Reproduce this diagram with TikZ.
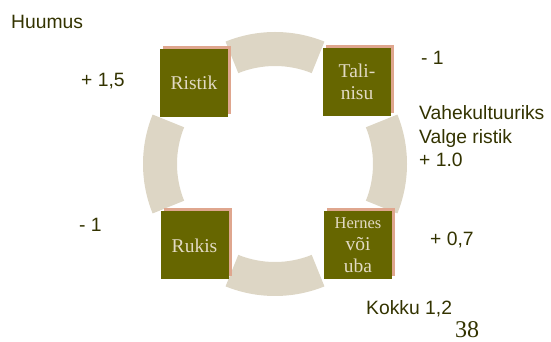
\documentclass[tikz,border=0pt]{standalone}
\usepackage{fontspec}
\setmainfont{Liberation Serif}
\setsansfont{Liberation Sans}
\usetikzlibrary{shadows,calc}
\definecolor{ringc}{HTML}{DDD6C5}
\definecolor{olivec}{HTML}{666600}
\definecolor{shadc}{HTML}{DFA68E}
\definecolor{boxtext}{HTML}{E2DAC4}
\definecolor{labc}{HTML}{333300}
\tikzset{
  ringseg/.style={fill=ringc, draw=none},
  cropbox/.style={fill=olivec, draw=none, minimum width=68pt, minimum height=68pt,
    inner sep=0pt, align=center, text=boxtext,
    general shadow={fill=shadc, shadow xshift=3pt, shadow yshift=3pt}},
  lab/.style={anchor=base west, inner sep=0pt, text=labc, font=\sffamily\fontsize{19.3}{23.5}\selectfont, align=left},
}
\begin{document}
\begin{tikzpicture}
\useasboundingbox (0pt,0pt) rectangle (551pt,342pt);
\coordinate (C) at (275pt,178pt);
\foreach \a in {0,90,180,270}{
  \fill[ringseg] ($(C)+(\a-22:132pt)$) arc[start angle=\a-22, end angle=\a+22, radius=132pt]
    -- ($(C)+(\a+22:98pt)$) arc[start angle=\a+22, end angle=\a-22, radius=98pt] -- cycle;
}
\node[cropbox, font=\fontsize{19.5}{22}\selectfont] (ristik) at (194pt,259pt) {Ristik};
\node[cropbox, font=\fontsize{19.5}{22}\selectfont] (tali) at (357pt,260pt) {Tali-\\nisu};
\node[cropbox, font=\fontsize{19.5}{22}\selectfont] (rukis) at (194.5pt,96.5pt) {Rukis};
\node[cropbox, font=\fontsize{16.5}{22}\selectfont] (hernes) at (358pt,97pt) {Hernes\\\fontsize{19.5}{22}\selectfont või\\\fontsize{19.5}{22}\selectfont uba};

\node[lab] (huumus) at (11pt,313pt) {Huumus};
\node[lab] (l1) at (81pt,255pt) {+ 1,5};
\node[lab] (l2) at (421pt,277pt) {- 1};
\node[lab] (l3) at (419pt,175pt) {Vahekultuuriks\\Valge ristik\\+ 1.0};
\node[lab] (l4) at (79pt,110pt) {- 1};
\node[lab] (l5) at (430pt,96pt) {+ 0,7};
\node[lab] (l6) at (366pt,27pt) {Kokku 1,2};
\node[anchor=base west, inner sep=0pt, text=labc, font=\fontsize{24}{24}\selectfont] (num) at (455pt,4pt) {38};
\end{tikzpicture}
\end{document}
